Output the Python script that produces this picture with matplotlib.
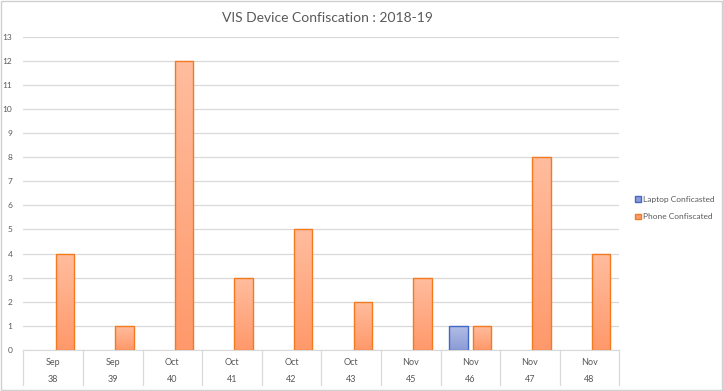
import matplotlib.pyplot as plt
import matplotlib.patches as mpatches
import numpy as np

months = ['Sep', 'Sep', 'Oct', 'Oct', 'Oct', 'Oct', 'Nov', 'Nov', 'Nov', 'Nov']
weeks = ['38', '39', '40', '41', '42', '43', '45', '46', '47', '48']
laptop = [0, 0, 0, 0, 0, 0, 0, 1, 0, 0]
phone = [4, 1, 12, 3, 5, 2, 3, 1, 8, 4]

plt.rcParams['font.family'] = ['Lato', 'DejaVu Sans']
text_color = '#595959'
grid_color = '#D9D9D9'

fig = plt.figure(figsize=(7.23, 3.91), dpi=100)
ax = fig.add_axes([0.0325, 0.105, 0.824, 0.801])

x = np.arange(len(weeks))
w = 0.31
off = 0.195


def gradient_bars(xs, vals, top_rgb, bot_rgb, edge):
    bars = ax.bar(xs, vals, width=w, facecolor='none', edgecolor=edge, linewidth=1.0, zorder=3)
    grad = np.linspace(0, 1, 64).reshape(-1, 1)
    img = np.zeros((64, 1, 3))
    for i in range(3):
        img[:, 0, i] = bot_rgb[i] + (top_rgb[i] - bot_rgb[i]) * grad[:, 0]
    for b in bars:
        if b.get_height() <= 0:
            b.set_visible(False)
            continue
        x0, y0 = b.get_x(), b.get_y()
        im = ax.imshow(img, extent=[x0, x0 + b.get_width(), y0, y0 + b.get_height()],
                       origin='lower', aspect='auto', zorder=2.5)
        im.set_clip_path(b)
    return bars


gradient_bars(x - off, laptop, (0.70, 0.75, 0.90), (0.55, 0.61, 0.84), '#4468C8')
gradient_bars(x + off, phone, (1.0, 0.74, 0.62), (1.0, 0.60, 0.42), '#F47A20')

ax.set_xlim(-0.5, len(weeks) - 0.5)
ax.set_ylim(0, 13)
ax.set_yticks(range(0, 14))
ax.set_xticks([])
ax.grid(axis='y', color=grid_color, linewidth=0.9, zorder=0)
for s in ['top', 'right', 'left']:
    ax.spines[s].set_visible(False)
ax.spines['bottom'].set_color(grid_color)
ax.tick_params(axis='y', length=0, labelsize=6, colors=text_color, pad=8)

# multi-level category axis
tr = ax.get_xaxis_transform()
for i in range(len(weeks) + 1):
    ax.plot([i - 0.5, i - 0.5], [0, -0.112], transform=tr, color=grid_color,
            linewidth=0.9, clip_on=False)
for i in range(len(weeks)):
    ax.text(i, -0.04, months[i], transform=tr, ha='center', va='center',
            fontsize=6.5, color=text_color)
    ax.text(i, -0.093, weeks[i], transform=tr, ha='center', va='center',
            fontsize=6.5, color=text_color)

fig.text(0.4535, 0.955, 'VIS Device Confiscation : 2018-19', ha='center', va='center',
         fontsize=10, color=text_color)

handles = [mpatches.Patch(facecolor='#8E9BD6', edgecolor='#4468C8'),
           mpatches.Patch(facecolor='#FF9D70', edgecolor='#F47A20')]
fig.legend(handles, ['Laptop Conficasted', 'Phone Confiscated'], loc='center left',
           bbox_to_anchor=(0.868, 0.468), frameon=False, fontsize=6,
           labelcolor=text_color, handlelength=0.7, handleheight=0.7,
           handletextpad=0.3, labelspacing=1.3)

fig.patches.append(mpatches.Rectangle((0.001, 0.002), 0.997, 0.996, transform=fig.transFigure,
                                      fill=False, edgecolor='#D0D0D0', linewidth=1))

fig.savefig('out.png', dpi=100)
